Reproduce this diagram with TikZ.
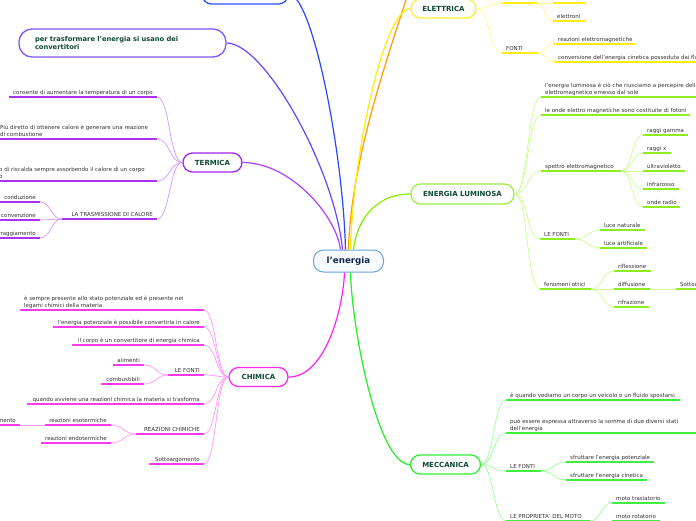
\documentclass[tikz,border=0pt]{standalone}
\usepackage{fontspec}
\setmainfont{DejaVu Sans}
\definecolor{txtc}{HTML}{333333}
\definecolor{nodetxt}{HTML}{0E4A38}
\definecolor{ctrtxt}{HTML}{14284F}
\definecolor{termU}{HTML}{A833F2}
\definecolor{termC}{HTML}{D49BFF}
\definecolor{termB}{HTML}{A425F0}
\definecolor{termL}{HTML}{B040FF}
\definecolor{chimU}{HTML}{FF3AEE}
\definecolor{chimC}{HTML}{FF9CF6}
\definecolor{chimB}{HTML}{FF2AEE}
\definecolor{chimL}{HTML}{FF22EE}
\definecolor{eletU}{HTML}{FFEE11}
\definecolor{eletC}{HTML}{FFFA88}
\definecolor{eletB}{HTML}{FFEE33}
\definecolor{eletL}{HTML}{FFEE00}
\definecolor{lumU}{HTML}{8CEE1E}
\definecolor{lumC}{HTML}{CBFF94}
\definecolor{lumB}{HTML}{9AEE44}
\definecolor{lumL}{HTML}{88EE00}
\definecolor{mecU}{HTML}{40EE40}
\definecolor{mecC}{HTML}{9CFF9C}
\definecolor{mecB}{HTML}{33EE33}
\definecolor{mecL}{HTML}{22EE22}
\definecolor{convB}{HTML}{7E55FF}
\definecolor{convL}{HTML}{6C44FF}
\definecolor{blueB}{HTML}{2A52FF}
\definecolor{blueL}{HTML}{2B45FF}
\definecolor{orgL}{HTML}{FF9A00}
\definecolor{ctrB}{HTML}{6AA4DA}
\definecolor{ctrF}{HTML}{F6FAFE}
\tikzset{
  leaf/.style={font=\fontsize{5.5}{7}\selectfont, text=txtc, inner xsep=4pt, inner ysep=1.2pt, text depth=1.3pt, align=left},
  ul/.style={line width=1.6pt, draw=#1},
  cn/.style={line width=0.75pt, draw=#1},
  mainbox/.style={draw=#1, line width=1.3pt, rounded corners=9.5pt, fill=white, font=\bfseries\fontsize{7}{8}\selectfont, text=nodetxt, minimum height=19pt, inner sep=0pt},
  mainln/.style={line width=1.2pt, draw=#1},
}
\newcommand\leafL[6]{\coordinate (#1-l) at (#2,#4);\coordinate (#1-r) at (#3,#4);
  \node[leaf, anchor=south west] (#1) at (#2,#4) {#6};
  \draw[ul=#5] (#1-l) -- (#1-r);}
\newcommand\leafR[6]{\coordinate (#1-l) at (#2,#4);\coordinate (#1-r) at (#3,#4);
  \node[leaf, anchor=south east] (#1) at (#3,#4) {#6};
  \draw[ul=#5] (#1-l) -- (#1-r);}
\newcommand\bareul[5]{\coordinate (#1-l) at (#2,#4);\coordinate (#1-r) at (#3,#4);
  \draw[ul=#5] (#1-l) -- (#1-r);}
\newcommand\cnR[4]{\draw[cn=#1] (#2) .. controls +(#4,0) and +(-#4,0) .. (#3);}
\newcommand\cnL[4]{\draw[cn=#1] (#2) .. controls +(-#4,0) and +(#4,0) .. (#3);}
\begin{document}
\begin{tikzpicture}[x=1pt,y=-1pt]
\useasboundingbox (0,0) rectangle (696,520);
\fill[white] (0,0) rectangle (696,520);

% ---------- main nodes
\node[draw=ctrB, fill=ctrF, line width=1pt, rounded corners=10pt, minimum width=70pt, minimum height=22pt, inner sep=0pt, font=\bfseries\fontsize{8.7}{10}\selectfont, text=ctrtxt] (ctr) at (348.5,261) {l'energia};
\node[mainbox=termB, minimum width=59pt] (term) at (212.5,162.5) {TERMICA};
\node[mainbox=chimB, minimum width=59pt] (chim) at (258.5,377) {CHIMICA};
\node[mainbox=eletB, minimum width=65pt] (elet) at (443.5,8.5) {ELETTRICA};
\node[mainbox=lumB, minimum width=103pt, minimum height=20pt] (lum) at (462.5,194) {ENERGIA LUMINOSA};
\node[mainbox=mecB, minimum width=70pt] (mec) at (445.5,464.5) {MECCANICA};
\node[mainbox=blueB, minimum width=86pt, minimum height=20pt] (topb) at (245,-6) {};
\node[mainbox=convB, minimum width=207pt, minimum height=28pt, rounded corners=13pt, align=left, text width=175pt, font=\bfseries\fontsize{6.7}{7.8}\selectfont] (conv) at (122.5,43) {per trasformare l'energia si usano dei\\convertitori};
\coordinate (orgtop) at (412,-20);

% ---------- main connectors
\draw[mainln=termL] (term.east) .. controls (290,162.5) and (336,215) .. ([xshift=-8pt]ctr.north);
\draw[mainln=convL] (conv.east) .. controls (265,43) and (335,170) .. ([xshift=-6pt]ctr.north);
\draw[mainln=blueL] (topb.east) .. controls (312,-6) and (343,150) .. ([xshift=-3pt]ctr.north);
\draw[mainln=orgL] (orgtop) .. controls (398,30) and (351,150) .. (ctr.north);
\draw[mainln=eletL] (elet.west) .. controls (385,8.5) and (353,150) .. ([xshift=2pt]ctr.north);
\draw[mainln=lumL] (lum.west) .. controls (372,194) and (356,225) .. ([xshift=5pt]ctr.north);
\draw[mainln=chimL] (chim.east) .. controls (325,377) and (343,310) .. ([xshift=-4pt]ctr.south);
\draw[mainln=mecL] (mec.west) .. controls (378,464.5) and (352,330) .. ([xshift=2pt]ctr.south);

% ---------- TERMICA
\leafR{t1}{9}{157}{97}{termU}{consente di aumentare la temperatura di un corpo}
\leafL{t2}{-4}{157}{139}{termU}{Più diretto di ottenere calore è generare una reazione\\di combustione}
\leafL{t3}{-5}{157}{181}{termU}{o di riscalda sempre assorbendo il calore di un corpo\\o}
\leafR{t4}{62}{157}{219}{termU}{LA TRASMISSIONE DI CALORE}
\leafR{t41}{-5}{40}{202}{termU}{conduzione}
\leafR{t42}{-5}{40}{220}{termU}{convenzione}
\leafR{t43}{-5}{40}{238}{termU}{irraggiamento}
\foreach \n in {t1,t2,t3,t4} {\cnL{termC}{term.west}{\n-r}{13}}
\foreach \n in {t41,t42,t43} {\cnL{termC}{t4-l}{\n-r}{11}}

% ---------- CHIMICA
\leafL{c1}{20}{204}{310}{chimU}{è sempre presente allo stato potenziale ed è presente nei\\legami chimici della materia}
\leafR{c2}{53}{204}{327}{chimU}{l'energia potenziale è possibile convertirla in calore}
\leafR{c3}{72}{204}{345}{chimU}{il corpo è un convertitore di energia chimica}
\leafR{c4}{168}{204}{375}{chimU}{LE FONTI}
\leafR{c41}{113}{144}{365}{chimU}{alimenti}
\leafR{c42}{101}{144}{384}{chimU}{combustibili}
\leafR{c5}{27}{204}{404}{chimU}{quando avviene una reazioni chimica la materia si trasforma}
\leafR{c6}{136}{204}{434}{chimU}{REAZIONI CHIMICHE}
\leafR{c61}{45}{111}{425}{chimU}{reazioni esotermiche}
\leafR{c611}{-40}{20}{425}{chimU}{Sottoargomento}
\leafR{c62}{41}{111}{443}{chimU}{reazioni endotermiche}
\leafR{c7}{149}{204}{464}{chimU}{Sottoargomento}
\foreach \n in {c1,c2,c3,c4,c5,c6,c7} {\cnL{chimC}{chim.west}{\n-r}{12.5}}
\foreach \n in {c41,c42} {\cnL{chimC}{c4-l}{\n-r}{12}}
\foreach \n in {c61,c62} {\cnL{chimC}{c6-l}{\n-r}{12.5}}
\draw[cn=chimC] (c61-l) -- (c611-r);

% ---------- ELETTRICA
\bareul{e0}{502}{537}{3}{eletU}
\bareul{e02}{553}{586}{3}{eletU}
\leafL{e03}{553}{586}{21}{eletU}{elettroni}
\leafL{e1}{502}{538}{53}{eletU}{FONTI}
\leafL{e11}{554}{636}{44}{eletU}{reazioni elettromagnetiche}
\leafL{e12}{554}{720}{62}{eletU}{conversione dell'energia cinetica posseduta dai fluidi}
\foreach \n in {e0,e1} {\cnR{eletC}{elet.east}{\n-l}{13}}
\foreach \n in {e02,e03} {\cnR{eletC}{e0-r}{\n-l}{8}}
\foreach \n in {e11,e12} {\cnR{eletC}{e1-r}{\n-l}{8}}

% ---------- ENERGIA LUMINOSA
\leafL{l1}{541}{720}{97}{lumU}{l'energia luminosa è ciò che riusciamo a percepire dello spettro\\elettromagnetico emesso dal sole}
\leafL{l2}{541}{690}{115}{lumU}{le onde elettro magnetiche sono costituite di fotoni}
\leafL{l3}{541}{621}{171}{lumU}{spettro elettromagnetico}
\leafL{l31}{643}{688}{135}{lumU}{raggi gamma}
\leafL{l32}{643}{671}{153}{lumU}{raggi x}
\leafL{l33}{643}{685}{171}{lumU}{ultravioletto}
\leafL{l34}{643}{679}{189}{lumU}{infrarosso}
\leafL{l35}{643}{680}{207}{lumU}{onde radio}
\leafL{l4}{540}{575}{239}{lumU}{LE FONTI}
\leafL{l41}{600}{645}{230}{lumU}{luce naturale}
\leafL{l42}{600}{647}{248}{lumU}{luce artificiale}
\leafL{l5}{540}{591}{289}{lumU}{fenomeni ottici}
\leafL{l51}{614}{651}{271}{lumU}{riflessione}
\leafL{l52}{614}{650}{289}{lumU}{diffusione}
\leafL{l521}{676}{740}{289}{lumU}{Sottoargomento}
\leafL{l53}{614}{649}{307}{lumU}{rifrazione}
\foreach \n in {l1,l2,l3,l4,l5} {\cnR{lumC}{lum.east}{\n-l}{13.5}}
\foreach \n in {l31,l32,l33,l34,l35} {\cnR{lumC}{l3-r}{\n-l}{11}}
\foreach \n in {l41,l42} {\cnR{lumC}{l4-r}{\n-l}{12.5}}
\foreach \n in {l51,l52,l53} {\cnR{lumC}{l5-r}{\n-l}{11.5}}
\draw[cn=lumC] (l52-r) -- (l521-l);

% ---------- MECCANICA
\leafL{m1}{506}{680}{400}{mecU}{è quando vediamo un corpo un veicolo o un fluido spostarsi}
\leafL{m2}{506}{720}{433}{mecU}{può essere espressa attraverso la somma di due diversi stati\\dell'energia}
\leafL{m3}{506}{541}{471}{mecU}{LE FONTI}
\leafL{m31}{566}{654}{462}{mecU}{sfruttare l'energia potenziale}
\leafL{m32}{566}{647}{480}{mecU}{sfruttare l'energia cinetica}
\leafL{m4}{506}{590}{521}{mecU}{LE PROPRIETA' DEL MOTO}
\leafL{m41}{612}{665}{503}{mecU}{moto traslatorio}
\leafL{m42}{612}{660}{521}{mecU}{moto rotatorio}
\foreach \n in {m1,m2,m3,m4} {\cnR{mecC}{mec.east}{\n-l}{12.5}}
\foreach \n in {m31,m32} {\cnR{mecC}{m3-r}{\n-l}{12.5}}
\foreach \n in {m41,m42} {\cnR{mecC}{m4-r}{\n-l}{11}}
\end{tikzpicture}
\end{document}
